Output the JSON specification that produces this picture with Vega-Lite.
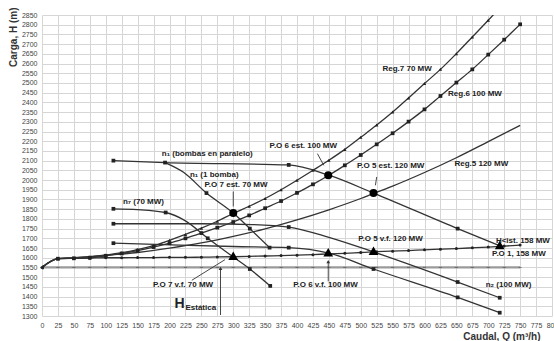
{
  "$schema": "https://vega.github.io/schema/vega-lite/v6.json",
  "width": 510,
  "height": 301,
  "autosize": {"type": "none"},
  "padding": {"left": 42, "top": 15, "right": 2, "bottom": 25},
  "background": "white",
  "config": {"view": {"stroke": null}, "font": "Liberation Sans"},
  "datasets": {
    "curves": [
      {"s":"Hest","q":0,"h":1550},{"s":"Hest","q":25,"h":1550},{"s":"Hest","q":50,"h":1550},{"s":"Hest","q":75,"h":1550},{"s":"Hest","q":100,"h":1550},{"s":"Hest","q":125,"h":1550},{"s":"Hest","q":150,"h":1550},{"s":"Hest","q":175,"h":1550},{"s":"Hest","q":200,"h":1550},{"s":"Hest","q":225,"h":1550},{"s":"Hest","q":250,"h":1550},{"s":"Hest","q":275,"h":1550},{"s":"Hest","q":300,"h":1550},{"s":"Hest","q":325,"h":1550},{"s":"Hest","q":350,"h":1550},{"s":"Hest","q":375,"h":1550},{"s":"Hest","q":400,"h":1550},{"s":"Hest","q":425,"h":1550},{"s":"Hest","q":450,"h":1550},{"s":"Hest","q":475,"h":1550},{"s":"Hest","q":500,"h":1550},{"s":"Hest","q":525,"h":1550},{"s":"Hest","q":550,"h":1550},{"s":"Hest","q":575,"h":1550},{"s":"Hest","q":600,"h":1550},{"s":"Hest","q":625,"h":1550},{"s":"Hest","q":650,"h":1550},{"s":"Hest","q":675,"h":1550},{"s":"Hest","q":700,"h":1550},{"s":"Hest","q":725,"h":1550},{"s":"Hest","q":750,"h":1550},
      {"s":"VF","q":0,"h":1550},{"s":"VF","q":25,"h":1595},{"s":"VF","q":50,"h":1597},{"s":"VF","q":75,"h":1598},{"s":"VF","q":100,"h":1600},{"s":"VF","q":125,"h":1600},{"s":"VF","q":150,"h":1601},{"s":"VF","q":175,"h":1601},{"s":"VF","q":200,"h":1602},{"s":"VF","q":225,"h":1602},{"s":"VF","q":250,"h":1603},{"s":"VF","q":275,"h":1604},{"s":"VF","q":300,"h":1605},{"s":"VF","q":325,"h":1607},{"s":"VF","q":350,"h":1609},{"s":"VF","q":375,"h":1611},{"s":"VF","q":400,"h":1613},{"s":"VF","q":425,"h":1616},{"s":"VF","q":450,"h":1620},{"s":"VF","q":475,"h":1623},{"s":"VF","q":500,"h":1627},{"s":"VF","q":525,"h":1631},{"s":"VF","q":550,"h":1634},{"s":"VF","q":575,"h":1637},{"s":"VF","q":600,"h":1641},{"s":"VF","q":625,"h":1644},{"s":"VF","q":650,"h":1647},{"s":"VF","q":675,"h":1651},{"s":"VF","q":700,"h":1655},{"s":"VF","q":725,"h":1660},{"s":"VF","q":750,"h":1665},
      {"s":"Reg7","q":0,"h":1550},{"s":"Reg7","q":25,"h":1595},{"s":"Reg7","q":50,"h":1599},{"s":"Reg7","q":75,"h":1604},{"s":"Reg7","q":100,"h":1614},{"s":"Reg7","q":125,"h":1626},{"s":"Reg7","q":150,"h":1642},{"s":"Reg7","q":175,"h":1662},{"s":"Reg7","q":200,"h":1690},{"s":"Reg7","q":225,"h":1720},{"s":"Reg7","q":250,"h":1752},{"s":"Reg7","q":275,"h":1788},{"s":"Reg7","q":300,"h":1828},{"s":"Reg7","q":325,"h":1865},{"s":"Reg7","q":350,"h":1905},{"s":"Reg7","q":375,"h":1950},{"s":"Reg7","q":400,"h":1999},{"s":"Reg7","q":425,"h":2050},{"s":"Reg7","q":450,"h":2102},{"s":"Reg7","q":475,"h":2158},{"s":"Reg7","q":500,"h":2220},{"s":"Reg7","q":525,"h":2283},{"s":"Reg7","q":550,"h":2350},{"s":"Reg7","q":575,"h":2423},{"s":"Reg7","q":600,"h":2497},{"s":"Reg7","q":625,"h":2570},{"s":"Reg7","q":650,"h":2651},{"s":"Reg7","q":675,"h":2737},{"s":"Reg7","q":700,"h":2823},{"s":"Reg7","q":725,"h":2910},
      {"s":"Reg6","q":0,"h":1550},{"s":"Reg6","q":25,"h":1595},{"s":"Reg6","q":50,"h":1597},{"s":"Reg6","q":75,"h":1600},{"s":"Reg6","q":100,"h":1610},{"s":"Reg6","q":125,"h":1622},{"s":"Reg6","q":150,"h":1637},{"s":"Reg6","q":175,"h":1655},{"s":"Reg6","q":200,"h":1675},{"s":"Reg6","q":225,"h":1700},{"s":"Reg6","q":250,"h":1727},{"s":"Reg6","q":275,"h":1755},{"s":"Reg6","q":300,"h":1784},{"s":"Reg6","q":325,"h":1818},{"s":"Reg6","q":350,"h":1855},{"s":"Reg6","q":375,"h":1892},{"s":"Reg6","q":400,"h":1934},{"s":"Reg6","q":425,"h":1978},{"s":"Reg6","q":450,"h":2025},{"s":"Reg6","q":475,"h":2076},{"s":"Reg6","q":500,"h":2129},{"s":"Reg6","q":525,"h":2184},{"s":"Reg6","q":550,"h":2241},{"s":"Reg6","q":575,"h":2301},{"s":"Reg6","q":600,"h":2364},{"s":"Reg6","q":625,"h":2433},{"s":"Reg6","q":650,"h":2502},{"s":"Reg6","q":675,"h":2570},{"s":"Reg6","q":700,"h":2646},{"s":"Reg6","q":725,"h":2723},{"s":"Reg6","q":750,"h":2802},
      {"s":"Reg5","q":0,"h":1550},{"s":"Reg5","q":25,"h":1595},{"s":"Reg5","q":50,"h":1600},{"s":"Reg5","q":100,"h":1612},{"s":"Reg5","q":150,"h":1627},{"s":"Reg5","q":200,"h":1649},{"s":"Reg5","q":250,"h":1676},{"s":"Reg5","q":300,"h":1710},{"s":"Reg5","q":350,"h":1749},{"s":"Reg5","q":400,"h":1795},{"s":"Reg5","q":450,"h":1847},{"s":"Reg5","q":500,"h":1905},{"s":"Reg5","q":520,"h":1931},{"s":"Reg5","q":550,"h":1969},{"s":"Reg5","q":600,"h":2039},{"s":"Reg5","q":650,"h":2115},{"s":"Reg5","q":700,"h":2198},{"s":"Reg5","q":750,"h":2282},
      {"s":"n1par","q":112,"h":2100},{"s":"n1par","q":193,"h":2090},{"s":"n1par","q":387,"h":2078},{"s":"n1par","q":450,"h":2025},{"s":"n1par","q":520,"h":1933},{"s":"n1par","q":652,"h":1750},{"s":"n1par","q":718,"h":1662},
      {"s":"n1b","q":193,"h":2090},{"s":"n1b","q":222,"h":2040},{"s":"n1b","q":258,"h":1933},{"s":"n1b","q":300,"h":1830},{"s":"n1b","q":326,"h":1750},{"s":"n1b","q":357,"h":1652},
      {"s":"n7","q":112,"h":1852},{"s":"n7","q":150,"h":1848},{"s":"n7","q":194,"h":1833},{"s":"n7","q":225,"h":1790},{"s":"n7","q":260,"h":1700},{"s":"n7","q":300,"h":1604},{"s":"n7","q":326,"h":1542},{"s":"n7","q":358,"h":1455},
      {"s":"nx","q":112,"h":1775},{"s":"nx","q":250,"h":1775},{"s":"nx","q":330,"h":1771},{"s":"nx","q":387,"h":1758},{"s":"nx","q":450,"h":1705},{"s":"nx","q":520,"h":1630},{"s":"nx","q":652,"h":1475},{"s":"nx","q":718,"h":1394},
      {"s":"nsq","q":112,"h":1675},{"s":"nsq","q":216,"h":1665},{"s":"nsq","q":300,"h":1658},{"s":"nsq","q":387,"h":1652},{"s":"nsq","q":450,"h":1624},{"s":"nsq","q":520,"h":1542},{"s":"nsq","q":652,"h":1396},{"s":"nsq","q":718,"h":1317}
    ],
    "pumpMarks": [
      {"s":"n1par","q":112,"h":2100},{"s":"n1par","q":193,"h":2090},{"s":"n1par","q":387,"h":2078},{"s":"n1par","q":652,"h":1750},
      {"s":"n1b","q":258,"h":1933},{"s":"n1b","q":326,"h":1750},{"s":"n1b","q":357,"h":1652},
      {"s":"n7","q":112,"h":1852},{"s":"n7","q":194,"h":1833},{"s":"n7","q":260,"h":1700},{"s":"n7","q":326,"h":1542},{"s":"n7","q":358,"h":1455},
      {"s":"nx","q":112,"h":1775},{"s":"nx","q":387,"h":1758},{"s":"nx","q":652,"h":1475},{"s":"nx","q":718,"h":1394},
      {"s":"nsq","q":112,"h":1675},{"s":"nsq","q":387,"h":1652},{"s":"nsq","q":520,"h":1542},{"s":"nsq","q":652,"h":1396},{"s":"nsq","q":718,"h":1317}
    ],
    "ops": [
      {"k":"est","q":300,"h":1830},{"k":"est","q":449,"h":2025},{"k":"est","q":520,"h":1933},
      {"k":"vf","q":300,"h":1610},{"k":"vf","q":449,"h":1628},{"k":"vf","q":520,"h":1636},{"k":"vf","q":718,"h":1666}
    ],
    "leaders": [
      {"q":300,"h":1941,"q2":300,"h2":1864},
      {"q":432,"h":2136,"q2":442,"h2":2076},
      {"q":525,"h":2016,"q2":523,"h2":1973},
      {"q":235,"h":1484,"q2":287,"h2":1590},
      {"q":280,"h":1305,"q2":280,"h2":1545},
      {"q":449,"h":1478,"q2":449,"h2":1580}
    ],
    "arrows": [
      {"q":280,"h":1545},{"q":449,"h":1580}
    ],
    "labels": [
      {"t":"n₁ (bombas en paralelo)","q":188,"h":2135},
      {"t":"n₁ (1 bomba)","q":232,"h":2027},
      {"t":"P.O 7 est. 70 MW","q":255,"h":1973},
      {"t":"n₇ (70 MW)","q":127,"h":1885},
      {"t":"P.O 7 v.f. 70 MW","q":174,"h":1461},
      {"t":"P.O 6 v.f. 100 MW","q":394,"h":1458},
      {"t":"P.O 5 v.f. 120 MW","q":496,"h":1698},
      {"t":"H<ist.  158 MW","q":712,"h":1686},
      {"t":"P.O 1, 158 MW","q":706,"h":1621},
      {"t":"n₂ (100 MW)","q":696,"h":1462},
      {"t":"P.O 6 est. 100 MW","q":357,"h":2174},
      {"t":"P.O 5 est. 120 MW","q":494,"h":2072},
      {"t":"Reg.5 120 MW","q":647,"h":2081},
      {"t":"Reg.7 70 MW","q":534,"h":2574},
      {"t":"Reg.6 100 MW","q":637,"h":2442},
      {"t":"Estática","q":225,"h":1343}
    ],
    "bigLabels": [
      {"t":"H","q":208,"h":1364}
    ]
  },
  "encoding": {
    "x": {
      "field": "q", "type": "quantitative",
      "scale": {"domain": [0, 800], "nice": false, "zero": false},
      "axis": {
        "values": [0,25,50,75,100,125,150,175,200,225,250,275,300,325,350,375,400,425,450,475,500,525,550,575,600,625,650,675,700,725,750,775,800],
        "format": "d",
        "title": "Caudal, Q (m³/h)",
        "grid": true, "gridColor": "#d6d6d6", "gridWidth": 1,
        "domain": false, "ticks": false,
        "labelFontSize": 7, "labelColor": "#444", "labelPadding": 5, "labelOverlap": false, "labelFlush": false,
        "titleFontSize": 10, "titleFontWeight": "bold", "titleColor": "#333",
        "titleAnchor": "end", "titleAlign": "right", "titleX": 498, "titleY": 20, "titleBaseline": "middle"
      }
    },
    "y": {
      "field": "h", "type": "quantitative",
      "scale": {"domain": [1300, 2850], "nice": false, "zero": false},
      "axis": {
        "values": [1300,1350,1400,1450,1500,1550,1600,1650,1700,1750,1800,1850,1900,1950,2000,2050,2100,2150,2200,2250,2300,2350,2400,2450,2500,2550,2600,2650,2700,2750,2800,2850],
        "format": "d",
        "title": "Carga, H (m)",
        "grid": true, "gridColor": "#d6d6d6", "gridWidth": 1,
        "domain": false, "ticks": false,
        "labelFontSize": 7, "labelColor": "#444", "labelPadding": 5, "labelOverlap": false, "labelFlush": false,
        "titleFontSize": 10, "titleFontWeight": "bold", "titleColor": "#333",
        "titleAngle": 270, "titleAlign": "right", "titleBaseline": "middle", "titleX": -29, "titleY": -8
      }
    }
  },
  "layer": [
    {
      "data": {"name": "curves"},
      "transform": [{"filter": "datum.s === 'Hest'"}],
      "mark": {"type": "line", "color": "#9a9a9a", "strokeWidth": 2.2},
      "encoding": {"detail": {"field": "s"}}
    },
    {
      "data": {"name": "curves"},
      "transform": [{"filter": "datum.s === 'Hest'"}],
      "mark": {"type": "point", "shape": "stroke", "filled": false, "stroke": "#555", "strokeWidth": 1, "size": 10}
    },
    {
      "data": {"name": "curves"},
      "transform": [{"filter": "datum.s !== 'Hest'"}],
      "mark": {"type": "line", "color": "#333", "strokeWidth": 1.3, "interpolate": "monotone", "clip": true},
      "encoding": {"detail": {"field": "s"}}
    },
    {
      "data": {"name": "curves"},
      "transform": [{"filter": "datum.s === 'VF'"}],
      "mark": {"type": "point", "shape": "circle", "filled": true, "color": "#222", "size": 9, "opacity": 1}
    },
    {
      "data": {"name": "curves"},
      "transform": [{"filter": "datum.s === 'Reg7'"}],
      "mark": {"type": "point", "shape": "triangle-up", "filled": true, "color": "#222", "size": 12, "opacity": 1, "clip": true}
    },
    {
      "data": {"name": "curves"},
      "transform": [{"filter": "datum.s === 'Reg6'"}],
      "mark": {"type": "point", "shape": "square", "filled": true, "color": "#222", "size": 14, "opacity": 1, "clip": true}
    },
    {
      "data": {"name": "pumpMarks"},
      "mark": {"type": "point", "shape": "square", "filled": true, "color": "#222", "size": 14, "opacity": 1}
    },
    {
      "data": {"name": "leaders"},
      "mark": {"type": "rule", "color": "#333", "strokeWidth": 0.9},
      "encoding": {"x2": {"field": "q2"}, "y2": {"field": "h2"}}
    },
    {
      "data": {"name": "arrows"},
      "mark": {"type": "point", "shape": "triangle-up", "filled": true, "color": "#333", "size": 14, "opacity": 1}
    },
    {
      "data": {"name": "ops"},
      "mark": {"type": "point", "filled": true, "color": "#000", "opacity": 1},
      "encoding": {
        "shape": {"field": "k", "type": "nominal", "scale": {"domain": ["est", "vf"], "range": ["circle", "triangle-up"]}, "legend": null},
        "size": {"field": "k", "type": "nominal", "scale": {"domain": ["est", "vf"], "range": [64, 95]}, "legend": null}
      }
    },
    {
      "data": {"name": "labels"},
      "mark": {"type": "text", "align": "left", "baseline": "middle", "fontSize": 8, "fontWeight": "bold", "color": "#222"},
      "encoding": {"text": {"field": "t"}}
    },
    {
      "data": {"name": "bigLabels"},
      "mark": {"type": "text", "align": "left", "baseline": "middle", "fontSize": 14, "fontWeight": "bold", "color": "#222"},
      "encoding": {"text": {"field": "t"}}
    }
  ]
}
